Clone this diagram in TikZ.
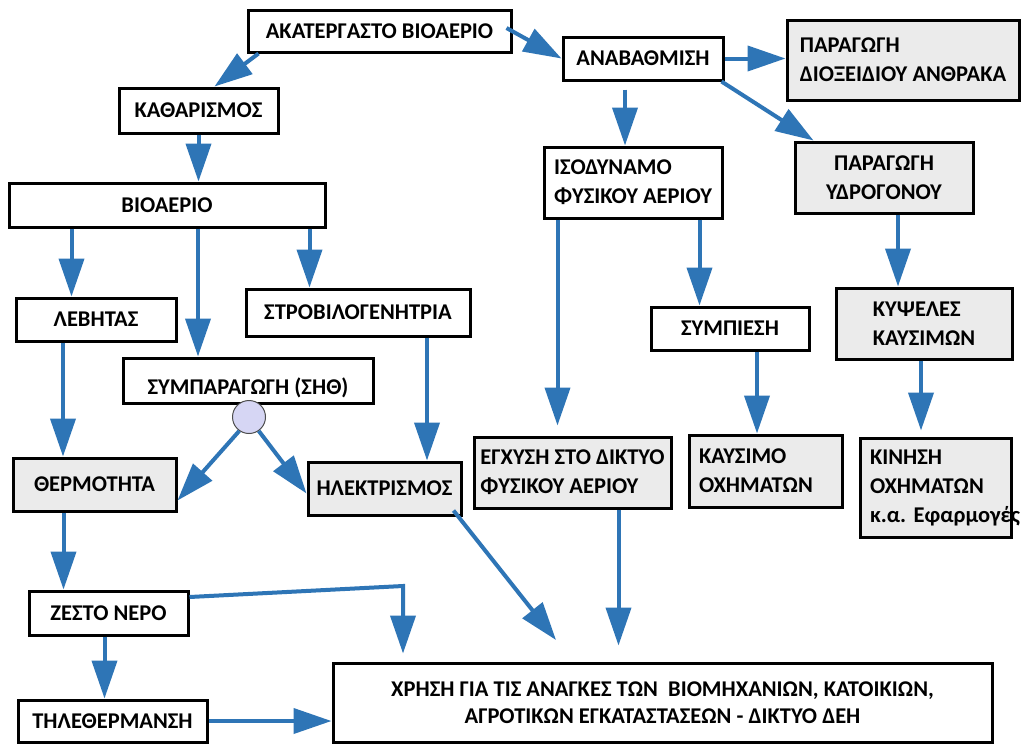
\documentclass[tikz,border=0pt]{standalone}
\usepackage{fontspec}
\setmainfont{Carlito}
\usetikzlibrary{arrows.meta}
\definecolor{flowblue}{HTML}{2E75B6}
\definecolor{boxgrey}{HTML}{EBEBEB}
\definecolor{chpdot}{HTML}{D6D6F4}
\tikzset{
  stage/.style={draw, line width=3pt, fill=white, inner sep=0pt, align=center,
    font=\bfseries\fontsize{22.5}{29}\selectfont},
  product/.style={stage, fill=boxgrey},
  flow/.style={draw=flowblue, line width=4pt, -{Triangle[length=38pt,width=25pt]}}
}
\begin{document}
\begin{tikzpicture}[x=1pt,y=-1pt]
  \fill[white] (0,0) rectangle (1022,745);
  \useasboundingbox (0,0) rectangle (1022,745);
  % boxes
  \node[stage, minimum width=263, minimum height=42] (raw) at (379.5,31) {ΑΚΑΤΕΡΓΑΣΤΟ ΒΙΟΑΕΡΙΟ};
  \node[stage, minimum width=159, minimum height=45] (clean) at (198.5,110.5) {ΚΑΘΑΡΙΣΜΟΣ};
  \node[stage, minimum width=316, minimum height=44] (biogas) at (167,205) {ΒΙΟΑΕΡΙΟ};
  \node[stage, minimum width=160, minimum height=43] (upgrade) at (643,58.5) {ΑΝΑΒΑΘΜΙΣΗ};
  \node[product, minimum width=232, minimum height=80, align=left] (co2) at (903,60) {ΠΑΡΑΓΩΓΗ\\ΔΙΟΞΕΙΔΙΟΥ ΑΝΘΡΑΚΑ};
  \node[stage, minimum width=178, minimum height=71, align=left] (natgas) at (633,182.5) {ΙΣΟΔΥΝΑΜΟ\\ΦΥΣΙΚΟΥ ΑΕΡΙΟΥ};
  \node[product, minimum width=178, minimum height=71] (hydrogen) at (884,177.5) {ΠΑΡΑΓΩΓΗ\\ΥΔΡΟΓΟΝΟΥ};
  \node[stage, minimum width=160, minimum height=43] (boiler) at (96,319.5) {ΛΕΒΗΤΑΣ};
  \node[stage, minimum width=224, minimum height=47] (turbine) at (358,312.5) {ΣΤΡΟΒΙΛΟΓΕΝΗΤΡΙΑ};
  \node[stage, minimum width=250, minimum height=45] (chp) at (248,380.5) {\raisebox{-7pt}[\height][\depth]{ΣΥΜΠΑΡΑΓΩΓΗ (ΣΗΘ)}};
  \node[product, minimum width=163, minimum height=53] (heat) at (94.5,484.5) {ΘΕΡΜΟΤΗΤΑ};
  \node[product, minimum width=153, minimum height=53] (elec) at (384.5,488.5) {ΗΛΕΚΤΡΙΣΜΟΣ};
  \node[product, minimum width=197, minimum height=71, align=left] (inject) at (572.5,472.5) {ΕΓΧΥΣΗ ΣΤΟ ΔΙΚΤΥΟ\\ΦΥΣΙΚΟΥ ΑΕΡΙΟΥ};
  \node[stage, minimum width=158, minimum height=43] (compress) at (730,328.5) {ΣΥΜΠΙΕΣΗ};
  \node[product, minimum width=176, minimum height=71, align=left] (fuelcell) at (924,323.5) {ΚΥΨΕΛΕΣ\\ΚΑΥΣΙΜΩΝ};
  \node[product, minimum width=153, minimum height=72, inner xsep=10, text width=133, align=left] (fuel) at (765.5,471) {ΚΑΥΣΙΜΟ\\ΟΧΗΜΑΤΩΝ};
  \node[product, minimum width=151, minimum height=99, inner xsep=10, text width=131, align=left] (motion) at (935.5,487.5) {ΚΙΝΗΣΗ\\ΟΧΗΜΑΤΩΝ\\\mbox{κ.α.\ Εφαρμογές}};
  \node[stage, minimum width=159, minimum height=44] (hotwater) at (108.5,613) {ΖΕΣΤΟ ΝΕΡΟ};
  \node[stage, minimum width=189, minimum height=42] (district) at (112.5,721) {ΤΗΛΕΘΕΡΜΑΝΣΗ};
  \node[stage, minimum width=659, minimum height=79, font=\bfseries\fontsize{22.5}{27}\selectfont] (use) at (662.5,702.5)
    {ΧΡΗΣΗ ΓΙΑ ΤΙΣ ΑΝΑΓΚΕΣ ΤΩΝ\ \ ΒΙΟΜΗΧΑΝΙΩΝ, ΚΑΤΟΙΚΙΩΝ,\\ΑΓΡΟΤΙΚΩΝ ΕΓΚΑΤΑΣΤΑΣΕΩΝ - ΔΙΚΤΥΟ ΔΕΗ};
  \node[circle, draw=black!70, line width=1pt, fill=chpdot, minimum size=33, inner sep=0pt] (cir) at (249,417) {};
  \coordinate (bend) at (403,586);
  \coordinate (elecend) at (556,640);
  % flows
  \draw[flow] ([xshift=12]raw.south west) -- ([xshift=16]clean.north);
  \draw[flow] ([xshift=-6,yshift=3]raw.east) -- (upgrade.west);
  \draw[flow] (clean.south) -- (clean.south |- biogas.north);
  \draw[flow] (upgrade.east) -- (upgrade.east -| co2.west);
  \draw[flow] ([xshift=-3]upgrade.south east) -- ([xshift=20]hydrogen.north west);
  \draw[flow, shorten <=8pt] ([xshift=-18]upgrade.south) -- ([xshift=-18]upgrade.south |- natgas.north);
  \draw[flow] ([xshift=64]biogas.south west) -- ([xshift=64]biogas.south west |- boiler.north);
  \draw[flow] ([xshift=31]biogas.south) -- ([xshift=31]biogas.south |- chp.north);
  \draw[flow] ([xshift=-17]biogas.south east) -- ([xshift=-17]biogas.south east |- turbine.north);
  \draw[flow] ([xshift=-33]boiler.south) -- ([xshift=-33]boiler.south |- heat.north);
  \draw[flow] ([xshift=69]turbine.south) -- ([xshift=69]turbine.south |- elec.north);
  \draw[flow] (cir.235) -- ([yshift=-16]heat.east);
  \draw[flow] (cir.-55) -- ([yshift=-5]elec.west);
  \draw[flow, shorten >=10pt] ([xshift=15]natgas.south west) -- ([xshift=15]natgas.south west |- inject.north);
  \draw[flow] ([xshift=-24]natgas.south east) -- ([xshift=-24]natgas.south east |- compress.north);
  \draw[flow] ([xshift=27]compress.south) -- ([xshift=27]compress.south |- fuel.north);
  \draw[flow] ([xshift=14]hydrogen.south) -- ([xshift=14]hydrogen.south |- fuelcell.north);
  \draw[flow, shorten >=6pt] ([xshift=-3]fuelcell.south) -- ([xshift=-3]fuelcell.south |- motion.north);
  \draw[flow] ([xshift=52]heat.south west) -- ([xshift=52]heat.south west |- hotwater.north);
  \draw[flow] ([xshift=-4]hotwater.south) -- ([xshift=-4]hotwater.south |- district.north);
  \draw[flow, shorten >=8pt] ([yshift=16]hotwater.east) -- (bend) -- (bend |- use.north);
  \draw[flow] ([xshift=-9,yshift=6]elec.south east) -- (elecend);
  \draw[flow, shorten >=16pt] ([xshift=46]inject.south) -- ([xshift=46]inject.south |- use.north);
  \draw[flow] (district.east) -- (district.east -| use.west);
\end{tikzpicture}
\end{document}
